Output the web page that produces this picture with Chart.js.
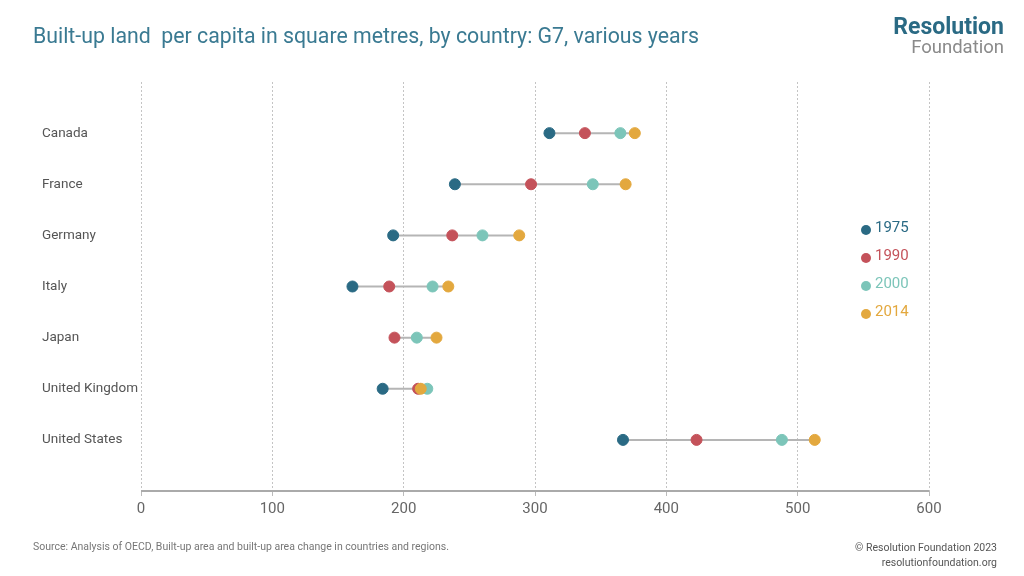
<!DOCTYPE html>
<html>
<head>
<meta charset="utf-8">
<script src="https://cdn.jsdelivr.net/npm/chart.js@4.4.0/dist/chart.umd.min.js"></script>
<style>
  body { margin: 0; background: #fff; font-family: Roboto, sans-serif; }
  #wrap { position: relative; width: 1024px; height: 576px; overflow: hidden; }
  #grafico { position: absolute; left: 0; top: 0; }
  .txt { position: absolute; white-space: nowrap; }
  #titulo { left: 33px; top: 23px; font-size: 21.3px; color: #3a7a92; }
  #logo1 { right: 20px; top: 13px; font-size: 23px; font-weight: bold; color: #2a6a84; }
  #logo2 { right: 20px; top: 36px; font-size: 18.5px; color: #8a8a8a; }
  #fonte { left: 33px; top: 540px; font-size: 10.5px; color: #777; }
  #copy { right: 27px; top: 540px; font-size: 10.5px; color: #555; text-align: right; line-height: 15px; }
  #legenda .item { position: absolute; left: 861px; font-size: 15px; }
  #legenda .dot { position: absolute; left: 0; top: 5px; width: 10px; height: 10px; border-radius: 50%; }
  #legenda .lbl { position: absolute; left: 14px; top: -2px; }
</style>
</head>
<body>
<div id="wrap">
  <canvas id="grafico" width="1024" height="576"></canvas>
  <div class="txt" id="titulo">Built-up land&nbsp; per capita in square metres, by country: G7, various years</div>
  <div class="txt" id="logo1">Resolution</div>
  <div class="txt" id="logo2">Foundation</div>
  <div id="legenda"></div>
  <div class="txt" id="fonte">Source: Analysis of OECD, Built-up area and built-up area change in countries and regions.</div>
  <div class="txt" id="copy">© Resolution Foundation 2023<br>resolutionfoundation.org</div>
</div>
<script>
// dados
const paises = ['Canada', 'France', 'Germany', 'Italy', 'Japan', 'United Kingdom', 'United States'];
const anos = ['1975', '1990', '2000', '2014'];
const v1975 = [311, 239, 192, 161, null, 184, 367];
const v1990 = [338, 297, 237, 189, 193, 211, 423];
const v2000 = [365, 344, 260, 222, 210, 218, 488];
const v2014 = [376, 369, 288, 234, 225, 213, 513];
const xTicks = [0, 100, 200, 300, 400, 500, 600];
const cores = ['#2a6a84', '#c4525a', '#7cc5b9', '#e3a83e'];

const series = [v1975, v1990, v2000, v2014];
const ordem = [2, 3, 4, 1]; // 2014 desenhado por cima

// linhas cinzas ligando min e max de cada pais
const linhas = paises.map((p, i) => {
    const vals = series.map(s => s[i]).filter(v => v != null);
    return {
        type: 'line',
        data: [{x: Math.min(...vals), y: i}, {x: Math.max(...vals), y: i}],
        borderColor: '#b5b5b5',
        borderWidth: 2,
        pointRadius: 0,
        order: 10
    };
});

const pontos = anos.map((a, k) => ({
    type: 'scatter',
    label: a,
    data: series[k].map((v, i) => v == null ? null : {x: v, y: i}).filter(d => d),
    backgroundColor: cores[k],
    borderColor: cores[k],
    pointRadius: 5.5,
    order: ordem[k]
}));

// legenda
const leg = document.getElementById('legenda');
anos.forEach((a, k) => {
    leg.innerHTML += `<div class="item" style="top:${220 + k * 28}px">
        <div class="dot" style="background:${cores[k]}"></div>
        <div class="lbl" style="color:${cores[k]}">${a}</div>
    </div>`;
});

// linha do eixo x desenhada à parte (sólida)
const eixo = {
    id: 'eixo',
    afterDatasetsDraw(chart) {
        const a = chart.chartArea, c = chart.ctx;
        c.save();
        c.strokeStyle = '#aaa';
        c.lineWidth = 2;
        c.beginPath();
        c.moveTo(a.left, a.bottom);
        c.lineTo(a.right, a.bottom);
        c.stroke();
        c.restore();
    }
};

const ctx = document.getElementById('grafico').getContext('2d');
new Chart(ctx, {
    data: { datasets: [...linhas, ...pontos] },
    plugins: [eixo],
    options: {
        responsive: false,
        animation: false,
        layout: { padding: { left: 42, right: 95, top: 82, bottom: 0 } },
        plugins: { legend: { display: false }, tooltip: { enabled: false } },
        scales: {
            x: {
                type: 'linear',
                min: 0, max: 600,
                afterBuildTicks: s => { s.ticks = xTicks.map(v => ({value: v})); },
                afterFit: s => { s.height = 85; },
                ticks: { color: '#666', font: { family: 'Roboto', size: 15 }, padding: 4 },
                grid: { color: '#c4c4c4', tickBorderDash: [], tickColor: '#bbb', tickLength: 5 },
                border: { display: false, dash: [2, 2] }
            },
            y: {
                type: 'linear',
                reverse: true,
                min: -1, max: 7,
                afterBuildTicks: s => { s.ticks = paises.map((p, i) => ({value: i})); },
                afterFit: s => { s.width = 99; },
                ticks: {
                    callback: v => paises[v],
                    crossAlign: 'far',
                    color: '#555',
                    font: { family: 'Roboto', size: 13.5 }
                },
                grid: { display: false },
                border: { display: false }
            }
        }
    }
});
</script>
</body>
</html>
